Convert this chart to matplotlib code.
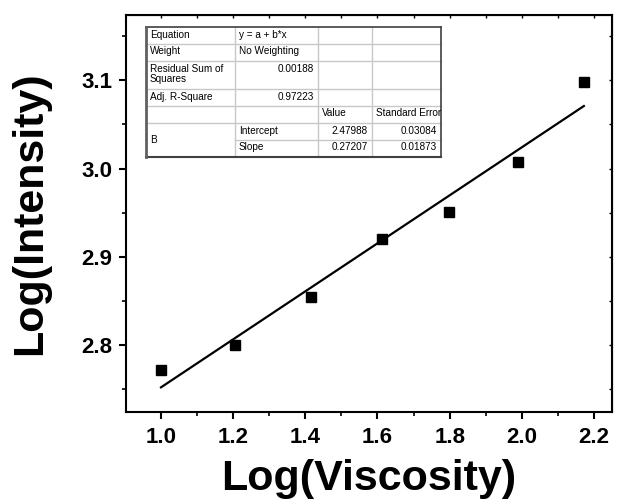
import matplotlib
matplotlib.use("Agg")
import matplotlib.pyplot as plt
from matplotlib.ticker import MultipleLocator
import numpy as np

plt.rcParams['font.family'] = ['Liberation Sans', 'DejaVu Sans']

# measured points
log_visc = [1.000, 1.204, 1.415, 1.612, 1.798, 1.989, 2.172]
log_int = [2.772, 2.800, 2.854, 2.920, 2.951, 3.007, 3.098]

# linear fit results
intercept = 2.47988
slope = 0.27207
intercept_err = 0.03084
slope_err = 0.01873
rss = 0.00188
adj_r2 = 0.97223

W, H = 617, 504
fig = plt.figure(figsize=(W / 100, H / 100), dpi=100)

# main axes (pixel box: left 126, right 612, top 15, bottom 412)
L, R, T, B = 126, 612, 15, 412
ax = fig.add_axes([L / W, 1 - B / H, (R - L) / W, (B - T) / H])

ax.plot(log_visc, log_int, 's', color='black', markersize=7.5, zorder=3)
xfit = np.array([min(log_visc), max(log_visc)])
ax.plot(xfit, intercept + slope * xfit, color='black', lw=1.6, zorder=2)

ax.set_xlim(0.903, 2.25)
ax.set_ylim(2.724, 3.174)
ax.xaxis.set_major_locator(MultipleLocator(0.2))
ax.xaxis.set_minor_locator(MultipleLocator(0.1))
ax.yaxis.set_major_locator(MultipleLocator(0.1))
ax.yaxis.set_minor_locator(MultipleLocator(0.05))

for s in ax.spines.values():
    s.set_linewidth(1.5)

ax.tick_params(which='major', direction='out', length=5, width=1.5,
               labelsize=16, top=False, right=False)
ax.tick_params(axis='x', which='major', pad=6)
ax.tick_params(axis='y', which='major', pad=5)
ax.tick_params(which='minor', direction='out', length=3, width=1.2,
               top=False, right=False)
for lab in ax.get_xticklabels() + ax.get_yticklabels():
    lab.set_fontweight('bold')

# short inward ticks on top/right
axt = ax.secondary_xaxis('top')
axt.xaxis.set_major_locator(MultipleLocator(0.2))
axt.xaxis.set_minor_locator(MultipleLocator(0.1))
axt.tick_params(which='both', direction='in', length=2, width=1, labeltop=False)
axr = ax.secondary_yaxis('right')
axr.yaxis.set_major_locator(MultipleLocator(0.1))
axr.yaxis.set_minor_locator(MultipleLocator(0.05))
axr.tick_params(which='both', direction='in', length=2, width=1, labelright=False)

ax.set_xlabel('Log(Viscosity)', fontsize=31, fontweight='bold', labelpad=8)
ax.set_ylabel('Log(Intensity)', fontsize=31, fontweight='bold', labelpad=22)

# fit summary table, drawn in pixel coordinates
tab = fig.add_axes([0, 0, 1, 1], zorder=5)
tab.set_xlim(0, W)
tab.set_ylim(H, 0)
tab.axis('off')

cx = [146, 235, 318, 372, 441]
ry = [27, 44, 61, 89, 106, 123, 140, 157]
grid_c = '#c8c8c8'
edge_c = '#404040'

# horizontal inner lines
for i, y in enumerate(ry[1:-1], start=1):
    x0 = cx[1] if y == ry[6] else cx[0]
    tab.plot([x0, cx[-1]], [y, y], color=grid_c, lw=1)
for x in cx[1:-1]:
    tab.plot([x, x], [ry[0], ry[-1]], color=grid_c, lw=1)
# outer frame
tab.plot([cx[0], cx[-1]], [ry[0], ry[0]], color=edge_c, lw=1.2)
tab.plot([cx[0], cx[-1]], [ry[-1], ry[-1]], color=edge_c, lw=1.5)
tab.plot([cx[0], cx[0]], [ry[0], ry[-1]], color='#606060', lw=2)
tab.plot([cx[-1], cx[-1]], [ry[0], ry[-1]], color=edge_c, lw=1.2)

fs = 7.2


def left(col, row, s):
    tab.text(cx[col] + 4, ry[row] + 2.5, s, fontsize=fs, ha='left', va='top',
             linespacing=1.0)


def right(col, row, s):
    tab.text(cx[col + 1] - 4, ry[row] + 2.5, s, fontsize=fs, ha='right', va='top')


left(0, 0, 'Equation')
left(1, 0, 'y = a + b*x')
left(0, 1, 'Weight')
left(1, 1, 'No Weighting')
left(0, 2, 'Residual Sum of\nSquares')
right(1, 2, f'{rss:.5f}')
left(0, 3, 'Adj. R-Square')
right(1, 3, f'{adj_r2:.5f}')
left(2, 4, 'Value')
left(3, 4, 'Standard Error')
tab.text(cx[0] + 4, (ry[5] + ry[7]) / 2, 'B', fontsize=fs, ha='left', va='center')
left(1, 5, 'Intercept')
right(2, 5, f'{intercept:.5f}')
right(3, 5, f'{intercept_err:.5f}')
left(1, 6, 'Slope')
right(2, 6, f'{slope:.5f}')
right(3, 6, f'{slope_err:.5f}')

fig.savefig('out.png', dpi=100)
